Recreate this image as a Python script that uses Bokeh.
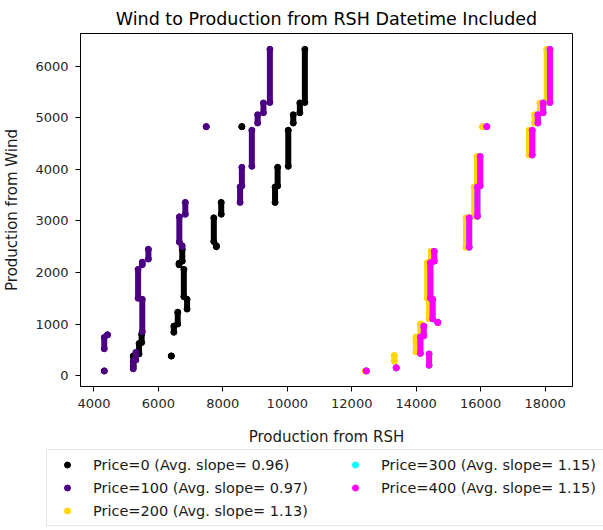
from bokeh.plotting import figure
from bokeh.layouts import column
from bokeh.models import Range1d, FixedTicker, Legend, LegendItem, ColumnDataSource
from bokeh.embed import file_html
from bokeh.resources import INLINE

# ---- data: vertical runs of points (x, y from y_start to y_end) ----
price0_x  = [6400, 5220, 5400, 5480, 6480, 6600, 6890, 6790, 6640, 6740, 7800, 7720, 7950, 9620, 9700, 8590, 10030, 10185, 10390, 10545]
price0_y0 = [380, 180, 420, 640, 840, 1000, 1290, 1530, 2150, 2220, 2500, 2600, 3130, 3360, 3680, 4830, 4060, 4900, 5100, 5300]
price0_y1 = [380, 380, 620, 800, 960, 1230, 1480, 2060, 2180, 2450, 2520, 3060, 3360, 3660, 4040, 4830, 4760, 5060, 5290, 6330]

price100_x  = [4320, 4320, 4420, 5220, 5300, 5500, 5370, 5500, 5690, 6735, 6650, 6835, 8535, 8590, 7485, 8900, 9080, 9260, 9460]
price100_y0 = [90, 520, 790, 130, 300, 850, 1500, 2150, 2260, 2500, 2590, 3130, 3360, 3680, 4830, 4060, 4900, 5100, 5300]
price100_y1 = [90, 740, 790, 280, 450, 1480, 2060, 2200, 2450, 2520, 3080, 3360, 3660, 4040, 4830, 4760, 5060, 5290, 6330]

price200_x  = [12420, 13320, 13990, 14130, 14400, 14340, 14460, 15545, 15800, 15885, 16060, 17500, 17675, 17840, 18050]
price200_y0 = [90, 280, 460, 780, 1100, 1500, 2220, 2490, 3090, 3680, 4830, 4280, 4900, 5100, 5300]
price200_y1 = [90, 390, 750, 1000, 1480, 2190, 2410, 3060, 3660, 4250, 4830, 4760, 5060, 5290, 6330]

price400_x  = [12450, 13380, 14400, 14130, 14235, 14670, 14510, 14440, 14560, 15645, 15900, 15985, 16190, 17600, 17775, 17940, 18150]
price400_y0 = [90, 150, 200, 430, 770, 1030, 1100, 1500, 2220, 2490, 3090, 3680, 4830, 4280, 4900, 5100, 5300]
price400_y1 = [90, 150, 420, 750, 960, 1030, 1480, 2190, 2410, 3060, 3660, 4250, 4830, 4760, 5060, 5290, 6330]

# Price=300 has the same slope as Price=400 and lies under it
price300_x  = list(price400_x)
price300_y0 = list(price400_y0)
price300_y1 = list(price400_y1)

labels = ["Price=0 (Avg. slope= 0.96)", "Price=100 (Avg. slope= 0.97)",
          "Price=200 (Avg. slope= 1.13)", "Price=300 (Avg. slope= 1.15)",
          "Price=400 (Avg. slope= 1.15)"]
colors = ["#000000", "#4b0082", "#ffd700", "#00ffff", "#ff00ff"]
series = [(price0_x, price0_y0, price0_y1), (price100_x, price100_y0, price100_y1),
          (price200_x, price200_y0, price200_y1), (price300_x, price300_y0, price300_y1),
          (price400_x, price400_y0, price400_y1)]

x_ticks = [4000, 6000, 8000, 10000, 12000, 14000, 16000, 18000]
y_ticks = [0, 1000, 2000, 3000, 4000, 5000, 6000]

FONT = "DejaVu Sans"

# ---------------- main plot ----------------
p = figure(width=603, height=448, output_backend="svg", toolbar_location=None,
           x_range=Range1d(3583, 18850), y_range=Range1d(-212, 6637),
           title="Wind to Production from RSH Datetime Included")
p.frame_align = False
p.min_border_left = 78
p.min_border_right = 31
p.min_border_top = 33
p.min_border_bottom = 60

p.title.text_font = FONT
p.title.text_font_size = "17.5px"
p.title.text_font_style = "normal"
p.title.align = "center"
p.title.text_color = "#000000"
p.title.standoff = 10

p.xgrid.visible = False
p.ygrid.visible = False
p.outline_line_color = "#000000"
p.outline_line_width = 1
p.background_fill_color = "white"
p.border_fill_color = "white"

p.xaxis.ticker = FixedTicker(ticks=x_ticks)
p.yaxis.ticker = FixedTicker(ticks=y_ticks)
p.xaxis.axis_label = "Production from RSH"
p.yaxis.axis_label = "Production from Wind"
for ax in (p.xaxis, p.yaxis):
    ax.axis_label_text_font = FONT
    ax.axis_label_text_font_size = "15px"
    ax.axis_label_text_font_style = "normal"
    ax.axis_label_text_color = "#1a1a1a"
    ax.major_label_text_font = FONT
    ax.major_label_text_font_size = "13px"
    ax.major_label_text_color = "#262626"
    ax.minor_tick_line_color = None
    ax.major_tick_in = 0
    ax.major_tick_out = 5
    ax.major_tick_line_color = "#000000"
    ax.axis_line_color = "#000000"
    ax.major_label_standoff = 7
p.xaxis.axis_label_standoff = 17
p.yaxis.axis_label_standoff = 11

for (xs, y0s, y1s), c in zip(series, colors):
    src = ColumnDataSource(dict(x=xs, y0=y0s, y1=y1s))
    p.segment(x0="x", y0="y0", x1="x", y1="y1", source=src,
              line_color=c, line_width=6, line_cap="round")
    pts = ColumnDataSource(dict(x=list(xs) + list(xs), y=list(y0s) + list(y1s)))
    p.scatter(x="x", y="y", source=pts, size=6, fill_color=c, line_color=c)

# ---------------- legend strip below the plot ----------------
# its own ranges keep the key renderers' points out of view; only the legend shows
lf = figure(width=603, height=82, output_backend="svg", toolbar_location=None,
            x_range=Range1d(0, 1), y_range=Range1d(0, 1))
lf.frame_align = False
lf.min_border_left = 0
lf.min_border_right = 0
lf.min_border_top = 0
lf.min_border_bottom = 0
lf.xaxis.visible = False
lf.yaxis.visible = False
lf.xgrid.visible = False
lf.ygrid.visible = False
lf.outline_line_color = None
lf.background_fill_color = "white"
lf.border_fill_color = "white"

key_renderers = []
for (xs, y0s, y1s), c in zip(series, colors):
    key_renderers.append(lf.scatter(x=[xs[0]], y=[y0s[0]], size=5, fill_color=c, line_color=c))

legend = Legend(items=[LegendItem(label=labels[i], renderers=[key_renderers[i]]) for i in range(5)],
                ncols=2, location=(46, 4), margin=0, padding=6, spacing=6,
                glyph_width=28, glyph_height=15, label_height=17, label_standoff=12,
                label_width=242,
                label_text_font=FONT, label_text_font_size="14.5px", label_text_color="#1a1a1a",
                border_line_color="#cccccc", border_line_width=1,
                background_fill_color="white", background_fill_alpha=1.0)
lf.add_layout(legend, "center")

layout = column(p, lf, spacing=0)
open("out.html", "w").write(file_html(layout, INLINE))
